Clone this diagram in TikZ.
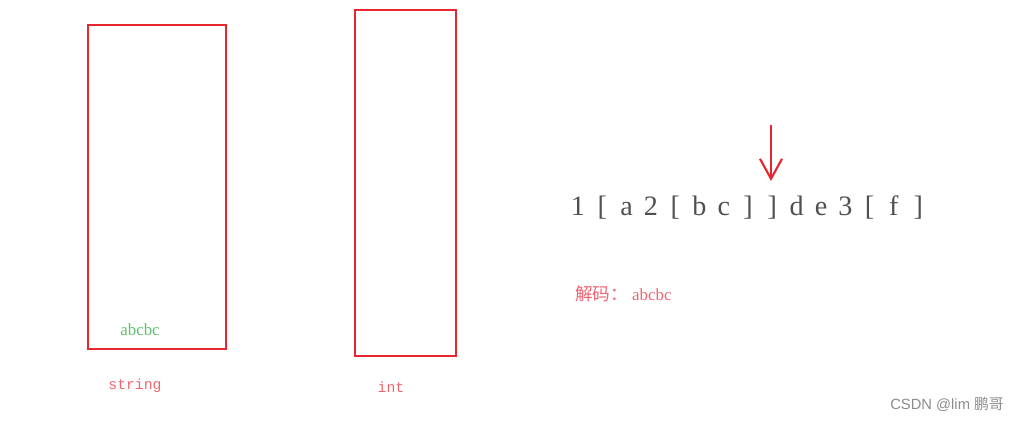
\documentclass[tikz,border=0pt]{standalone}
\usepackage{fontspec}
\setmainfont{Liberation Serif}
\setmonofont{Liberation Mono}
\setsansfont{Liberation Sans}
\newfontfamily\cjk{Noto Sans CJK SC}
\usetikzlibrary{arrows.meta}
\definecolor{boxred}{RGB}{232,38,48}
\definecolor{labred}{RGB}{240,100,112}
\definecolor{strgreen}{RGB}{96,192,110}
\definecolor{chargray}{RGB}{80,80,80}

\begin{document}
\begin{tikzpicture}[x=0.025cm,y=-0.025cm,
    stack/.style={draw=boxred,line width=1.9pt},
    ch/.style={text=chargray,font=\fontsize{20}{24}\selectfont,inner sep=0pt,anchor=base}]
      \useasboundingbox (0,0) rectangle (1019,421);
      % the two stacks
      \draw[stack] (88,25) rectangle (226,349);
      \draw[stack] (355,10) rectangle (456,356);
      \node[text=strgreen,font=\fontsize{12}{14}\selectfont] (top) at (140,330) {abcbc};
      \node[text=labred,font=\ttfamily\fontsize{10.5}{12}\selectfont] (strlab) at (135,386) {string};
      \node[text=labred,font=\ttfamily\fontsize{10.5}{12}\selectfont] (intlab) at (391,387) {int};
      % the input, one char at a time
      \foreach \c [count=\i from 0] in {1,[,a,2,[,b,c,],],d,e,3,[,f,]}
        \node[ch] (c\i) at ({578+24.3*\i},215) {\c};
      \coordinate (arr) at (771,125);
      \coordinate (tip) at (771,181);
      \draw[boxred,line width=1.5pt,-{Straight Barb[length=0.5cm,width=0.55cm]}] (arr) -- (tip);
      \node[text=labred,anchor=west,inner sep=0pt] (dec) at (575,294)
        {{\cjk\fontsize{12.5}{14}\selectfont 解码：}\hspace{0.3em}{\fontsize{12}{14}\selectfont abcbc}};
      \node[text=black!45,font=\sffamily\fontsize{10.5}{12}\selectfont,anchor=east,inner sep=0pt] (mark) at (1004,404)
        {CSDN @lim {\cjk 鹏哥}};
\end{tikzpicture}
\end{document}
